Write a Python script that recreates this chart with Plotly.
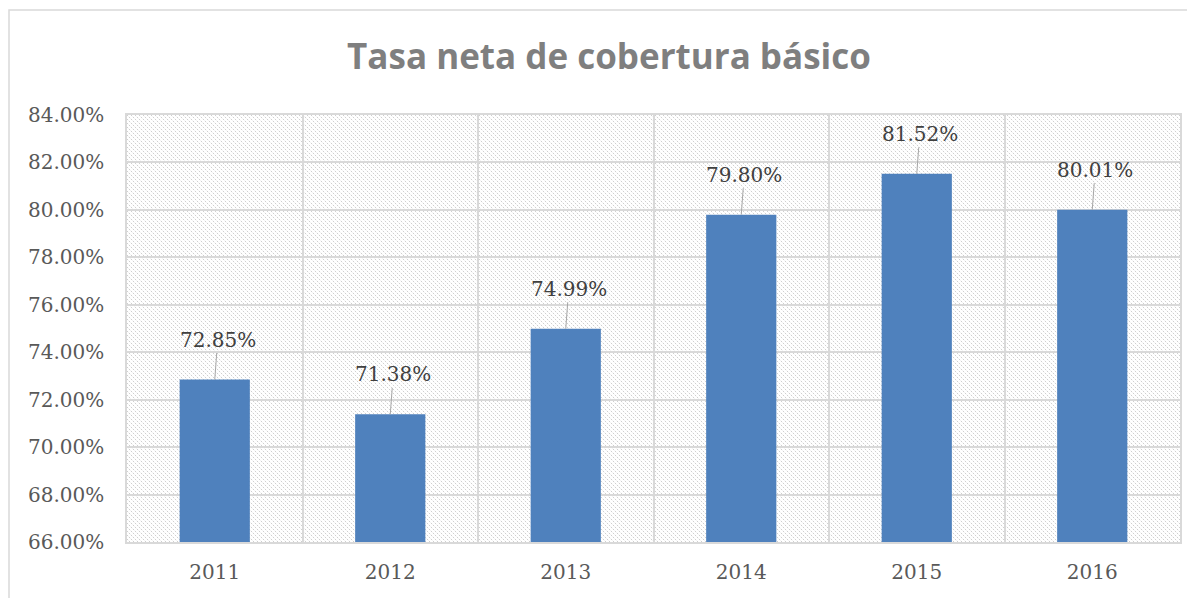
import plotly.graph_objects as go
import urllib.parse

years = ["2011", "2012", "2013", "2014", "2015", "2016"]
values = [0.7285, 0.7138, 0.7499, 0.7980, 0.8152, 0.8001]
label_texts = ["72.85%", "71.38%", "74.99%", "79.80%", "81.52%", "80.01%"]
title_text = "Tasa neta de cobertura básico"

# page body adds an 8px offset, so the figure is sized to the remaining area
W, H = 1187, 590
L, R, T, B = 119, 15, 107, 56
PW, PH = W - L - R, H - T - B

serif = "DejaVu Serif"

fig = go.Figure()
fig.add_trace(go.Bar(
    x=years, y=values, width=0.4,
    marker=dict(color="#4F81BD", line=dict(width=0)),
    hoverinfo="x+y",
))

for i, (v, t) in enumerate(zip(values, label_texts)):
    fig.add_annotation(
        x=i, y=v, text=t, showarrow=True, arrowhead=0, arrowwidth=1,
        arrowcolor="#a6a6a6", ax=3, ay=-40, standoff=0,
        font=dict(family=serif, size=20, color="#404040"),
    )

svg = (
    f'<svg xmlns="http://www.w3.org/2000/svg" width="{PW}" height="{PH}" shape-rendering="crispEdges">'
    '<defs><pattern id="p" width="4" height="4" patternUnits="userSpaceOnUse">'
    '<rect x="0" y="0" width="1" height="1" fill="#cfcfcf"/>'
    '<rect x="2" y="2" width="1" height="1" fill="#cfcfcf"/>'
    '<rect x="1" y="1" width="1" height="1" fill="#f4f4f4"/>'
    '<rect x="3" y="3" width="1" height="1" fill="#f4f4f4"/>'
    '</pattern></defs>'
    f'<rect width="{PW}" height="{PH}" fill="#ffffff"/>'
    f'<rect width="{PW}" height="{PH}" fill="url(#p)"/></svg>'
)
uri = "data:image/svg+xml;charset=utf-8," + urllib.parse.quote(svg)
fig.add_layout_image(
    source=uri, xref="paper", yref="paper", x=0, y=1, sizex=1, sizey=1,
    xanchor="left", yanchor="top", sizing="stretch", layer="below",
)

# outer chart border
fig.add_shape(
    type="rect", xref="paper", yref="paper",
    x0=(1 - L) / PW, x1=(W + 20 - L) / PW,
    y0=-(20 + B) / PH, y1=(H - 2 - B) / PH,
    line=dict(color="#d9d9d9", width=1.5), fillcolor="rgba(0,0,0,0)",
    layer="below",
)

fig.update_layout(
    width=W, height=H,
    margin=dict(l=L, r=R, t=T, b=B, autoexpand=False),
    paper_bgcolor="white",
    plot_bgcolor="rgba(0,0,0,0)",
    showlegend=False,
    title=dict(
        text=f"<b>{title_text}</b>", x=601 / W, xref="container", xanchor="center",
        y=1 - 49 / H, yanchor="middle",
        font=dict(family="Open Sans", size=35, color="#7f7f7f"),
    ),
    bargap=0.6,
)
fig.update_xaxes(
    type="category", tickson="boundaries", showgrid=True, automargin=False,
    gridcolor="#d9d9d9", gridwidth=1.5, tickangle=0,
    showline=True, linecolor="#d9d9d9", linewidth=1.5, mirror=True,
    ticks="", ticklabelstandoff=11,
    tickfont=dict(family=serif, size=20, color="#595959"),
)
fig.update_yaxes(
    range=[0.66, 0.84], dtick=0.02, tick0=0.66, tickformat=".2%",
    showgrid=True, gridcolor="#d9d9d9", gridwidth=1.5, automargin=False,
    showline=True, linecolor="#d9d9d9", linewidth=1.5, mirror=True,
    zeroline=False, ticks="", ticklabelstandoff=17,
    tickfont=dict(family=serif, size=20, color="#595959"),
)

fig.write_html("out.html")
